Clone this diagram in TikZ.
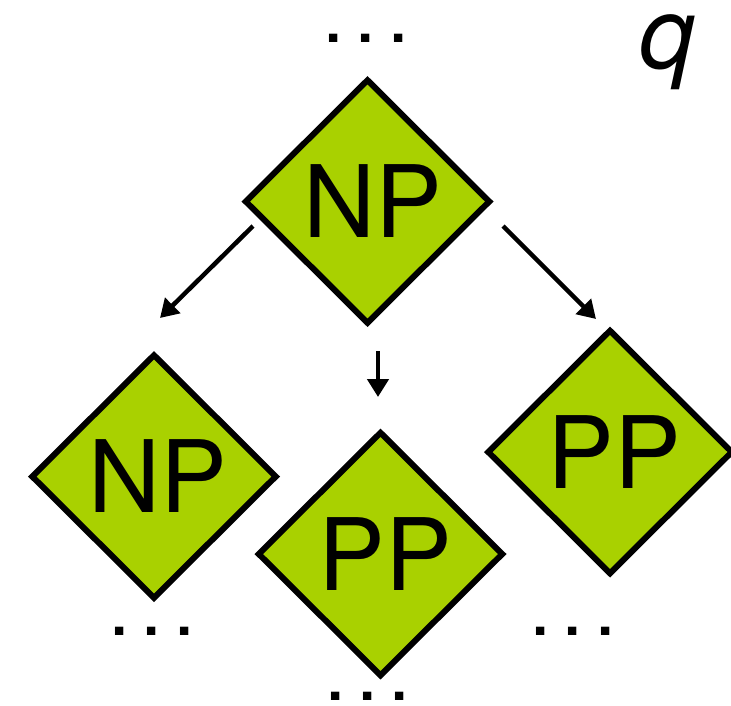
\documentclass[tikz,border=0pt]{standalone}
\usepackage{fontspec}
\setmainfont{TeX Gyre Heros}
\usetikzlibrary{shapes.geometric,arrows.meta}
\definecolor{npgreen}{RGB}{169,209,0}
\newcommand{\bigfont}{\fontsize{100}{110}\selectfont}
\newcommand{\dotsfont}{\fontsize{80}{90}\selectfont}
\begin{document}
\begin{tikzpicture}[x=1pt,y=-1pt,
  cat/.style={shape=diamond, aspect=1, minimum width=246pt, minimum height=245pt,
    inner sep=0pt, draw=black, line width=6pt, fill=npgreen, font=\bigfont},
  arr/.style={line width=4.5pt, -{Triangle[length=18pt,width=21pt]}},
  dotrow/.style={inner sep=0pt, font=\dotsfont}]
\useasboundingbox (0,0) rectangle (731,705);
\node[cat] (top) at (367.5,201.5) {\kern10pt NP};
\node[cat] (left) at (154,476.5) {\kern7pt NP};
\node[cat] (mid) at (380.5,554) {\kern10pt PP};
\node[cat] (right) at (610,452) {\kern8pt PP};
\coordinate (la) at (253,226);
\coordinate (lb) at (160,318);
\coordinate (ra) at (503,226);
\coordinate (rb) at (596,319);
\coordinate (ma) at (378,351);
\coordinate (mb) at (378,397);
\draw[arr] (la) -- (lb);
\draw[arr] (ra) -- (rb);
\draw[arr] (ma) -- (mb);
\node[dotrow] (dtop) at (366,38.5) {.\kern10pt.\kern10pt.};
\node[dotrow] (dleft) at (152,631.5) {.\kern10pt.\kern10pt.};
\node[dotrow] (dright) at (573,631.5) {.\kern10pt.\kern10pt.};
\node[dotrow] (dmid) at (367.5,696) {.\kern10pt.\kern10pt.};
\node[inner sep=0pt, font=\bigfont\itshape] (q) at (667,52) {q};
\end{tikzpicture}
\end{document}
